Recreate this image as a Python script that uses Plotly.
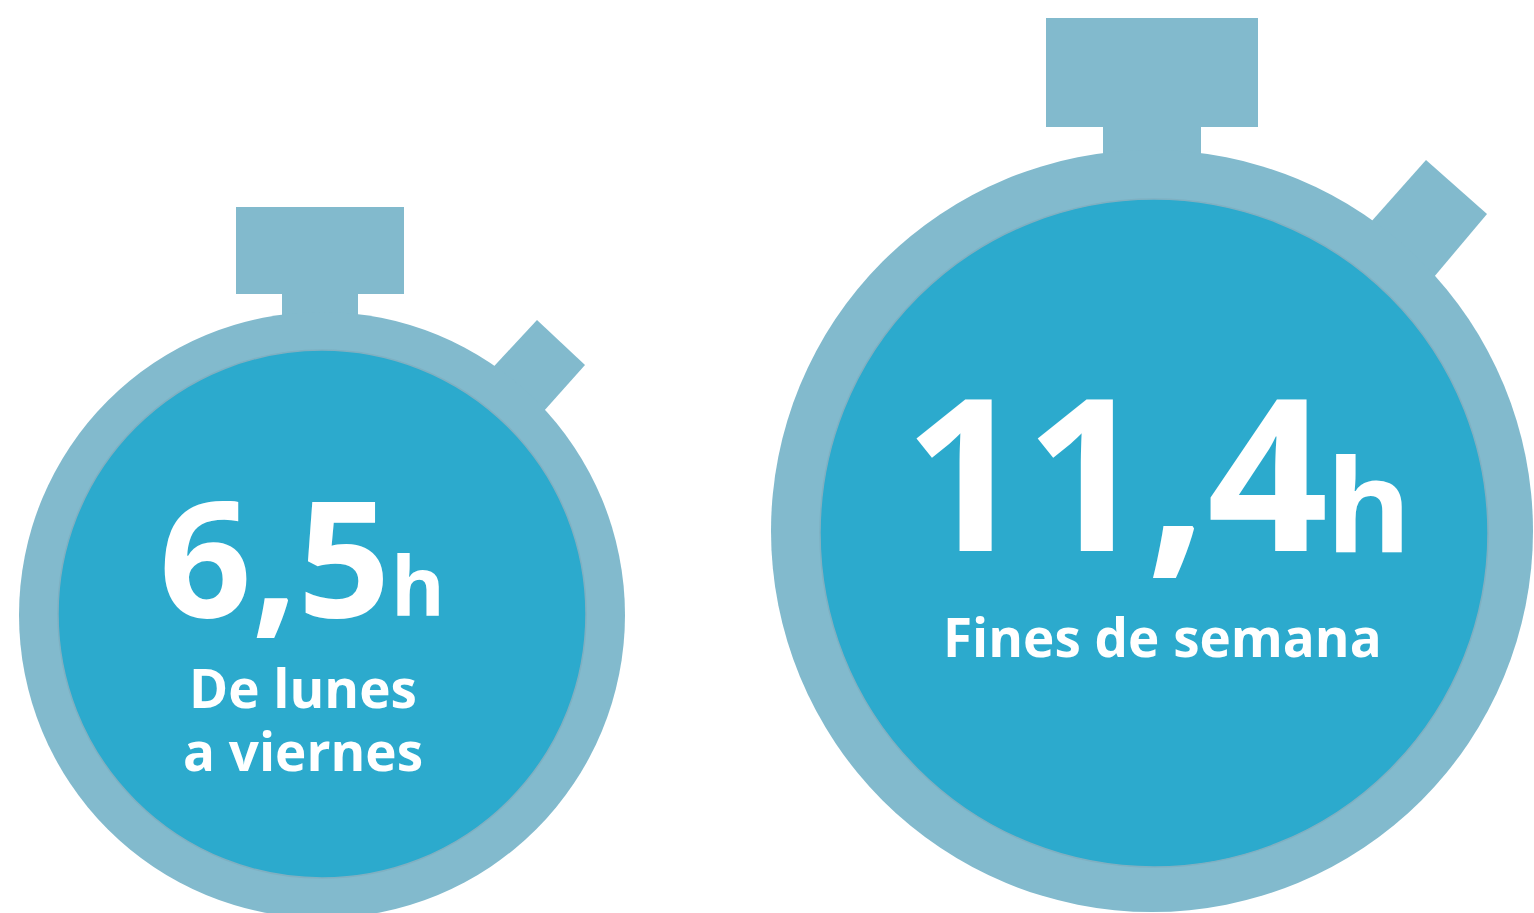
import plotly.graph_objects as go

values = ["6,5", "11,4"]
unit = "h"
label_lines = [["De lunes", "a viernes"], ["Fines de semana"]]

RING = "#82bacd"
FACE = "#2caacd"
EDGE = "#7fb0c2"
FONT = "Open Sans"

# geometry: (cx, cy, outer r, inner cx, inner cy, inner r)
bodies = [(322, 615, 303, 322, 614, 264), (1152, 531, 381, 1154, 533, 334)]
crowns = [(236, 404, 207, 294), (1046, 1258, 18, 127)]
stems = [(282, 358, 290, 325), (1103, 1201, 125, 165)]
buttons = [
    [(537, 320), (585, 365), (535, 421), (485, 376)],
    [(1426, 160), (1487, 214), (1423, 290), (1362, 232)],
]
# value: right edge x, middle y, size; unit: left edge x, middle y, size
value_pos = [(390, 554, 162), (1328, 468, 212)]
unit_pos = [(391, 584, 82), (1326, 501, 130)]
label_pos = [[(303, 687), (303, 750)], [(1162, 636)]]
LABEL_SIZE = 53

shapes = []
for (cx, cy, r, ix, iy, ir), (x0, x1, y0, y1), (sx0, sx1, sy0, sy1), btn in zip(bodies, crowns, stems, buttons):
    path = "M " + " L ".join(f"{x},{y}" for x, y in btn) + " Z"
    shapes.append(dict(type="path", path=path, fillcolor=RING, line_width=0))
    shapes.append(dict(type="rect", x0=x0, x1=x1, y0=y0, y1=y1, fillcolor=RING, line_width=0))
    shapes.append(dict(type="rect", x0=sx0, x1=sx1, y0=sy0, y1=sy1, fillcolor=RING, line_width=0))
    shapes.append(dict(type="circle", x0=cx - r, x1=cx + r, y0=cy - r, y1=cy + r, fillcolor=RING, line_width=0))
    shapes.append(dict(type="circle", x0=ix - ir, x1=ix + ir, y0=iy - ir, y1=iy + ir, fillcolor=FACE,
                       line=dict(color=EDGE, width=1.5)))


def text(x, y, s, size, anchor):
    return dict(x=x, y=y, xanchor=anchor, yanchor="middle", showarrow=False, text=s,
                font=dict(family=FONT, size=size, color="white", weight=700),
                borderpad=0, borderwidth=0)


annotations = []
for v, lines, vp, up, lps in zip(values, label_lines, value_pos, unit_pos, label_pos):
    annotations.append(text(vp[0], vp[1], v, vp[2], "right"))
    annotations.append(text(up[0], up[1], unit, up[2], "left"))
    for line, (lx, ly) in zip(lines, lps):
        annotations.append(text(lx, ly, line, LABEL_SIZE, "center"))

fig = go.Figure()
fig.update_layout(
    width=1534, height=913, autosize=False,
    margin=dict(l=0, r=0, t=0, b=0),
    paper_bgcolor="white", plot_bgcolor="white",
    xaxis=dict(range=[0, 1534], visible=False, fixedrange=True),
    yaxis=dict(range=[913, 0], visible=False, fixedrange=True),
    shapes=shapes, annotations=annotations, showlegend=False,
)
fig.write_html("out.html", config={"displayModeBar": False},
               post_script="document.body.style.margin='0';document.body.style.overflow='hidden';")
